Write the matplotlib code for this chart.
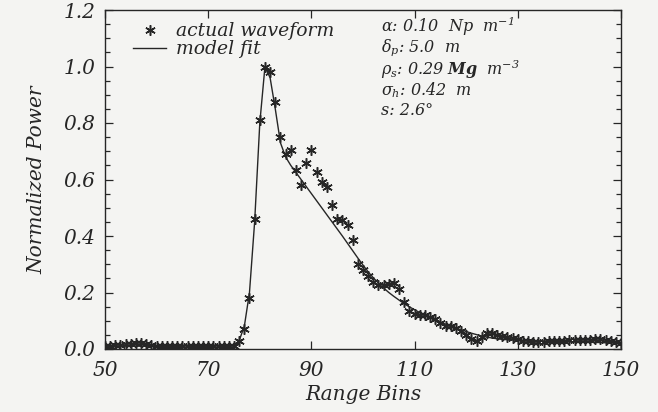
import matplotlib
matplotlib.use("Agg")
import matplotlib.pyplot as plt
from matplotlib.ticker import MultipleLocator

# ---- data ----
bins = list(range(50, 151))
actual_waveform = [
    0.012, 0.012, 0.014, 0.015, 0.016, 0.018, 0.022, 0.020, 0.016, 0.014,   # 50-59
    0.012, 0.011, 0.011, 0.010, 0.011, 0.011, 0.010, 0.011, 0.012, 0.012,   # 60-69
    0.012, 0.011, 0.012, 0.012, 0.010, 0.012, 0.030, 0.070, 0.180, 0.460,   # 70-79
    0.810, 1.000, 0.980, 0.875, 0.750, 0.690, 0.705, 0.635, 0.580, 0.660,   # 80-89
    0.705, 0.625, 0.592, 0.575, 0.510, 0.460, 0.457, 0.440, 0.386, 0.300,   # 90-99
    0.280, 0.258, 0.236, 0.228, 0.228, 0.230, 0.234, 0.212, 0.168, 0.135,   # 100-109
    0.125, 0.120, 0.120, 0.114, 0.105, 0.092, 0.080, 0.080, 0.076, 0.062,   # 110-119
    0.048, 0.035, 0.030, 0.042, 0.055, 0.055, 0.050, 0.046, 0.042, 0.040,   # 120-129
    0.035, 0.030, 0.027, 0.026, 0.026, 0.025, 0.027, 0.029, 0.030, 0.030,   # 130-139
    0.031, 0.031, 0.032, 0.031, 0.033, 0.034, 0.035, 0.031, 0.027, 0.024,   # 140-149
    0.022,                                                                  # 150
]
model_fit = [
    0.010, 0.010, 0.010, 0.010, 0.010, 0.010, 0.010, 0.010, 0.010, 0.010,   # 50-59
    0.010, 0.010, 0.010, 0.010, 0.010, 0.010, 0.010, 0.010, 0.010, 0.010,   # 60-69
    0.010, 0.010, 0.010, 0.010, 0.010, 0.012, 0.030, 0.080, 0.200, 0.450,   # 70-79
    0.800, 1.000, 0.960, 0.850, 0.730, 0.680, 0.650, 0.625, 0.600, 0.575,   # 80-89
    0.550, 0.525, 0.500, 0.475, 0.450, 0.425, 0.400, 0.374, 0.348, 0.322,   # 90-99
    0.297, 0.273, 0.252, 0.233, 0.216, 0.200, 0.186, 0.173, 0.160, 0.149,   # 100-109
    0.139, 0.129, 0.120, 0.111, 0.103, 0.095, 0.088, 0.081, 0.074, 0.068,   # 110-119
    0.062, 0.056, 0.051, 0.046, 0.042, 0.039, 0.036, 0.034, 0.033, 0.032,   # 120-129
    0.031, 0.030, 0.030, 0.029, 0.029, 0.028, 0.028, 0.027, 0.027, 0.026,   # 130-139
    0.026, 0.025, 0.025, 0.024, 0.024, 0.023, 0.023, 0.022, 0.022, 0.021,   # 140-149
    0.021,                                                                  # 150
]
x_ticks = [50, 70, 90, 110, 130, 150]
y_ticks = [0.0, 0.2, 0.4, 0.6, 0.8, 1.0, 1.2]
param_lines = [
    r"$\alpha$: 0.10  Np  m$^{-1}$",
    r"$\delta_p$: 5.0  m",
    r"$\rho_s$: 0.29 $\mathbf{Mg}$  m$^{-3}$",
    r"$\sigma_h$: 0.42  m",
    "s: 2.6°",
]

# ---- style ----
plt.rcParams["font.family"] = ["DejaVu Serif"]
plt.rcParams["font.style"] = "italic"
plt.rcParams["mathtext.fontset"] = "custom"
plt.rcParams["mathtext.rm"] = "DejaVu Serif:italic"
plt.rcParams["mathtext.it"] = "DejaVu Serif:italic"
plt.rcParams["mathtext.bf"] = "DejaVu Serif:italic:bold"

ink = "#262626"
bg = "#f4f4f2"

fig = plt.figure(figsize=(6.58, 4.12), dpi=100, facecolor=bg)
ax = fig.add_axes([105 / 658, 1 - 349 / 412, (621 - 105) / 658, (349 - 10) / 412])
ax.set_facecolor(bg)

ax.plot(bins, model_fit, color=ink, lw=1.0, label="model fit", zorder=2)
ax.plot(bins, actual_waveform, linestyle="none", marker=(6, 2, 0), markersize=7.5,
        markeredgewidth=1.1, color=ink, label="actual waveform", zorder=3)

ax.set_xlim(50, 150)
ax.set_ylim(0, 1.2)
ax.set_xticks(x_ticks)
ax.set_yticks(y_ticks)
ax.set_xticklabels([str(v) for v in x_ticks])
ax.set_yticklabels([f"{v:.1f}" for v in y_ticks])
ax.yaxis.set_minor_locator(MultipleLocator(0.05))

ax.tick_params(axis="both", which="both", direction="in", top=True, right=True,
               colors=ink, width=0.9)
ax.tick_params(axis="both", which="major", length=6, labelsize=14.5)
ax.tick_params(axis="x", which="major", pad=9)
ax.tick_params(axis="y", which="major", pad=7)
ax.tick_params(axis="y", which="minor", length=3.5)
for s in ax.spines.values():
    s.set_color(ink)
    s.set_linewidth(1.0)

ax.set_xlabel("Range Bins", fontsize=14.5, color=ink, labelpad=3)
ax.set_ylabel("Normalized Power", fontsize=14.5, color=ink, labelpad=12)

h, l = ax.get_legend_handles_labels()
leg = ax.legend(h[::-1], l[::-1], loc="upper left", bbox_to_anchor=(0.03, 1.0),
                frameon=False, fontsize=13.5, handlelength=1.8, handletextpad=0.5,
                labelspacing=0.0, numpoints=1, borderaxespad=0.25)
for t in leg.get_texts():
    t.set_color(ink)

for i, line in enumerate(param_lines):
    ax.text(0.535, 0.985 - i * 0.064, line, transform=ax.transAxes, fontsize=11.5,
            color=ink, va="top", ha="left")

fig.savefig("out.png", dpi=100, facecolor=bg)
